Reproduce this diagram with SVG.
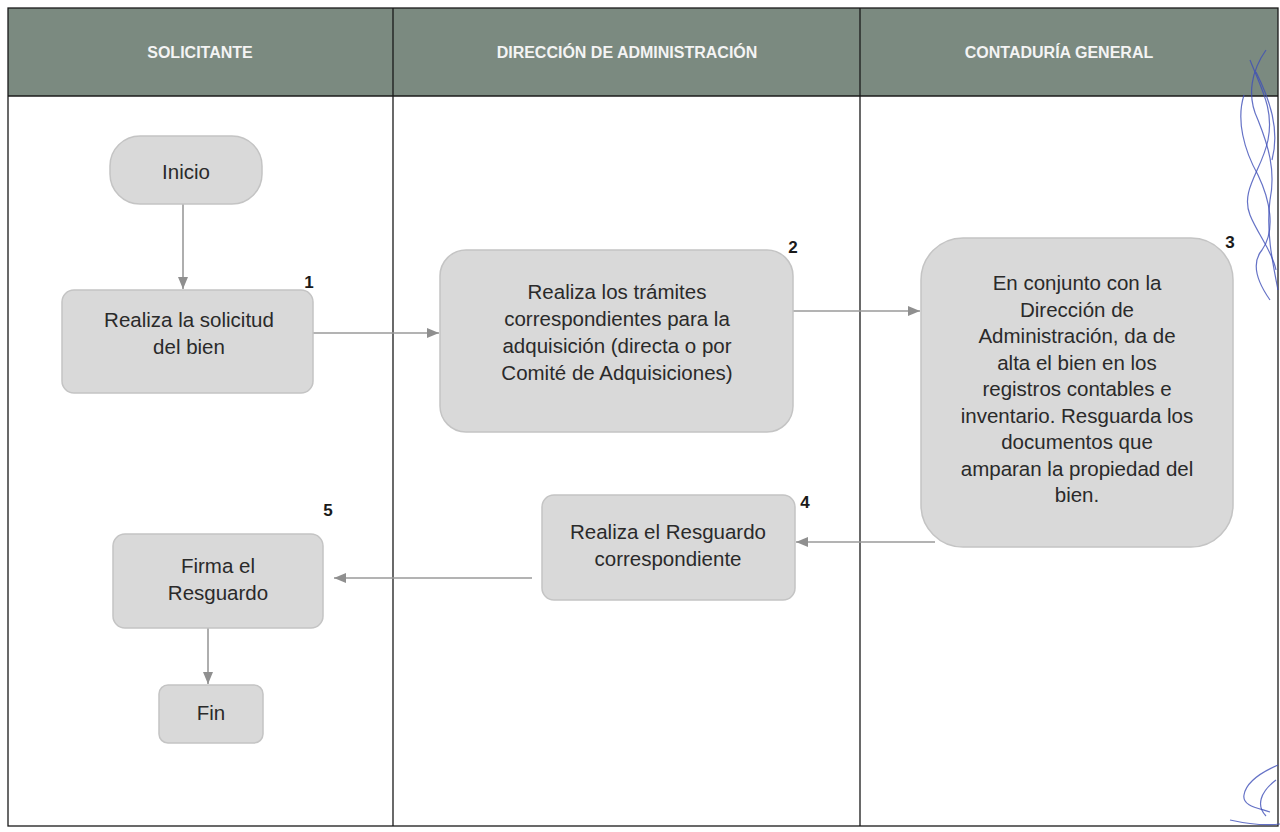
<svg xmlns="http://www.w3.org/2000/svg" width="1280" height="832" viewBox="0 0 1280 832">
<defs>
<style>
.hdr{fill:#7b8a80}
.hdrtxt{font-family:"Liberation Sans",Arial,sans-serif;font-weight:bold;font-size:16px;fill:#f4f4f4;text-anchor:middle}
.grid{stroke:#1a1a1a;stroke-width:1.3;fill:none}
.box{fill:#d9d9d9;stroke:#c4c4c4;stroke-width:1.5}
.txt{font-family:"Liberation Sans",Arial,sans-serif;font-size:20.5px;fill:#2a2a2a;text-anchor:middle}
.num{font-family:"Liberation Sans",Arial,sans-serif;font-weight:bold;font-size:17px;fill:#1a1a1a;text-anchor:middle}
.con{stroke:#9a9a9a;stroke-width:1.6;fill:none;marker-end:url(#arr)}
.sig{stroke:#3f4fb8;stroke-width:1.2;fill:none;opacity:0.8}
</style>
<marker id="arr" viewBox="0 0 12 10" refX="12" refY="5" markerWidth="12" markerHeight="10" markerUnits="userSpaceOnUse" orient="auto">
<path d="M0,0 L12,5 L0,10 z" fill="#8f8f8f"/>
</marker>
</defs>
<rect width="1280" height="832" fill="#ffffff"/>
<g id="lanes">
<rect class="hdr" x="8" y="8" width="1270" height="88"/>
<rect class="grid" x="8" y="8" width="1270" height="818"/>
<line class="grid" x1="8" y1="96" x2="1278" y2="96"/>
<line class="grid" x1="393" y1="8" x2="393" y2="826"/>
<line class="grid" x1="860" y1="8" x2="860" y2="826"/>
<text class="hdrtxt" x="200" y="58">SOLICITANTE</text>
<text class="hdrtxt" x="627" y="58">DIRECCIÓN DE ADMINISTRACIÓN</text>
<text class="hdrtxt" x="1059" y="58">CONTADURÍA GENERAL</text>
</g>
<g id="connectors">
<line class="con" x1="183" y1="204" x2="183" y2="289"/>
<line class="con" x1="313" y1="333" x2="439" y2="333"/>
<line class="con" x1="793" y1="311" x2="920" y2="311"/>
<line class="con" x1="935" y1="542" x2="796" y2="542"/>
<line class="con" x1="532" y1="578" x2="334" y2="578"/>
<line class="con" x1="208" y1="628" x2="208" y2="684"/>
</g>
<g id="inicio">
<rect class="box" x="110" y="136" width="152" height="68" rx="30"/>
<text class="txt" x="186" y="179">Inicio</text>
</g>
<g id="paso1">
<rect class="box" x="62" y="290" width="251" height="103" rx="12"/>
<text class="txt" x="189" y="327">Realiza la solicitud</text>
<text class="txt" x="189" y="354">del bien</text>
<text class="num" x="309" y="288">1</text>
</g>
<g id="paso2">
<rect class="box" x="440" y="250" width="353" height="182" rx="26"/>
<text class="txt" x="617" y="299">Realiza los trámites</text>
<text class="txt" x="617" y="326">correspondientes para la</text>
<text class="txt" x="617" y="353">adquisición (directa o por</text>
<text class="txt" x="617" y="380">Comité de Adquisiciones)</text>
<text class="num" x="793" y="253">2</text>
</g>
<g id="paso3">
<rect class="box" x="921" y="238" width="312" height="309" rx="42"/>
<text class="txt" x="1077" y="290">En conjunto con la</text>
<text class="txt" x="1077" y="316.5">Dirección de</text>
<text class="txt" x="1077" y="343">Administración, da de</text>
<text class="txt" x="1077" y="369.5">alta el bien en los</text>
<text class="txt" x="1077" y="396">registros contables e</text>
<text class="txt" x="1077" y="422.5">inventario. Resguarda los</text>
<text class="txt" x="1077" y="449">documentos que</text>
<text class="txt" x="1077" y="475.5">amparan la propiedad del</text>
<text class="txt" x="1077" y="502">bien.</text>
<text class="num" x="1230" y="248">3</text>
</g>
<g id="paso4">
<rect class="box" x="542" y="495" width="253" height="105" rx="12"/>
<text class="txt" x="668" y="539">Realiza el Resguardo</text>
<text class="txt" x="668" y="566">correspondiente</text>
<text class="num" x="805" y="508">4</text>
</g>
<g id="paso5">
<rect class="box" x="113" y="534" width="210" height="94" rx="12"/>
<text class="txt" x="218" y="573">Firma el</text>
<text class="txt" x="218" y="600">Resguardo</text>
<text class="num" x="328" y="516">5</text>
</g>
<g id="fin">
<rect class="box" x="159" y="685" width="104" height="58" rx="9"/>
<text class="txt" x="211" y="720">Fin</text>
</g>
<g id="signature">
<path class="sig" d="M1266,50 C1252,70 1246,95 1258,120 C1268,145 1276,170 1270,200 C1266,230 1272,260 1278,290"/>
<path class="sig" d="M1244,95 C1236,120 1244,150 1258,175 C1270,200 1276,230 1262,250 C1252,262 1256,280 1270,300"/>
<path class="sig" d="M1250,60 C1262,90 1274,110 1268,140 C1262,170 1240,190 1250,215 C1258,235 1272,250 1276,270"/>
<path class="sig" d="M1256,72 C1270,100 1280,130 1272,160"/>
<path class="sig" d="M1278,765 C1262,772 1246,782 1244,795 C1242,806 1258,808 1270,812"/>
<path class="sig" d="M1230,820 C1248,824 1264,826 1280,824"/>
<path class="sig" d="M1276,780 C1260,792 1256,806 1266,816"/>
</g>
</svg>
